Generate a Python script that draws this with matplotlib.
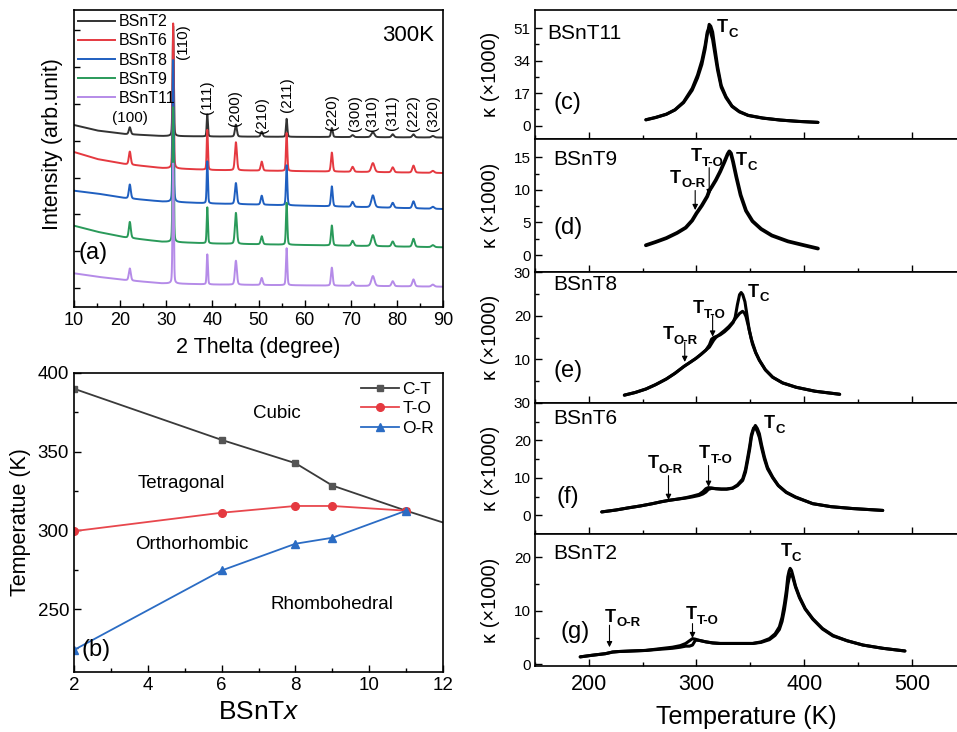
import numpy as np
import matplotlib
matplotlib.use('Agg')
import matplotlib.pyplot as plt
from matplotlib.ticker import MultipleLocator, FixedLocator
from matplotlib.transforms import offset_copy

plt.rcParams['font.family'] = ['Liberation Sans', 'DejaVu Sans']
plt.rcParams['mathtext.fontset'] = 'custom'
plt.rcParams['mathtext.rm'] = 'Liberation Sans'
plt.rcParams['mathtext.it'] = 'Liberation Sans:italic'
plt.rcParams['mathtext.bf'] = 'Liberation Sans:bold'

# ---------------- Panel (a): XRD ----------------
xrd_names = ['BSnT2', 'BSnT6', 'BSnT8', 'BSnT9', 'BSnT11']
xrd_colors = ['#333333', '#e53940', '#1f5fc0', '#2a9a5a', '#b58be8']
peak_labels = ['(100)', '(110)', '(111)', '(200)', '(210)', '(211)', '(220)',
               '(300)', '(310)', '(311)', '(222)', '(320)']
peak_pos = [22.1, 31.5, 38.9, 45.1, 50.7, 56.1, 65.9, 70.4, 74.8, 79.1, 83.6, 87.8]
peak_hwhm = [0.25, 0.15, 0.15, 0.25, 0.25, 0.17, 0.22, 0.3, 0.4, 0.3, 0.3, 0.35]
base_x = [10, 15, 21, 29, 40, 90]
xrd_base = [
    [182, 176.5, 173, 171, 170.5, 169.5],
    [155, 148, 143, 139, 137, 134],
    [116.3, 113.5, 109, 105.5, 103.5, 98],
    [81.3, 75.3, 69.7, 65.3, 63.5, 59.7],
    [33.7, 30.3, 27, 23.7, 22.5, 20.3],
]
xrd_heights = [
    [7, 110, 22, 12, 5, 18, 9, 2, 5, 3, 3, 1.5],
    [13, 145, 40, 28, 9, 38, 19, 5, 9, 5, 7, 2],
    [14, 142, 42, 21, 9, 40, 20, 5, 12, 5, 7, 2],
    [16, 135, 36, 31, 8, 42, 20, 5, 11, 5, 8, 2],
    [12, 120, 30, 24, 7, 37, 18, 4, 10, 5, 7, 2],
]

# ---------------- Panel (b): phase diagram ----------------
bx = [2, 6, 8, 9, 11]
ct_x = [2, 6, 8, 9, 11, 12]
ct_T = [390, 357.5, 342.7, 328.5, 312.5, 305]
to_T = [299.5, 311.2, 315.5, 315.5, 312.5]
or_T = [224, 274.5, 291.5, 295.3, 312.5]

# ---------------- Right panels: dielectric ----------------
c_T = [253, 262, 272, 280, 288, 296, 301, 305, 308, 310, 311.8, 313.3, 315, 317, 319.6,
       323, 327.4, 333, 339.8, 348, 361.5, 378, 395, 412.8]
c_k1 = [3.1, 4.3, 6.0, 8.2, 12.0, 18.5, 25.0, 32.0, 40.0, 47.5, 53.0, 52.0, 49.0, 41.0, 31.0,
        21.0, 15.2, 10.3, 7.4, 5.4, 4.0, 2.9, 2.2, 1.7]
c_k2 = [3.0, 4.2, 5.9, 8.3, 12.4, 19.5, 26.5, 34.0, 42.0, 49.0, 51.0, 48.5, 45.0, 38.0, 29.0,
        20.0, 14.6, 10.0, 7.2, 5.3, 3.9, 2.9, 2.2, 1.7]

d_T = [253, 262, 272, 282, 290, 296, 300, 305, 310, 312, 314, 318, 322, 326, 329,
       330.5, 332, 334, 337, 341, 346, 352, 360, 370, 385, 400, 412.8]
d_k = [1.5, 2.0, 2.6, 3.4, 4.2, 5.3, 6.4, 7.6, 9.0, 9.9, 10.4, 11.5, 12.8, 14.3, 15.5,
       15.9, 15.6, 14.3, 12.0, 9.2, 6.8, 5.2, 4.0, 3.0, 2.1, 1.5, 1.0]

e_T1 = [233, 243, 253, 262, 272, 280, 288.5, 294, 299.4, 304, 308.7, 312, 314, 316, 318,
        322, 326, 330, 334, 336, 338, 340, 341.5, 343, 345, 347, 349, 352, 355, 358.4,
        364, 370.8, 380, 392.6, 410, 433]
e_k1 = [1.8, 2.4, 3.2, 4.2, 5.5, 6.8, 8.4, 9.3, 10.2, 11.1, 12.1, 13.3, 14.6, 15.0, 15.2,
        15.6, 16.3, 17.2, 18.4, 19.7, 22.5, 24.8, 25.3, 24.8, 23.2, 20.0, 16.7, 13.5, 11.5, 9.8,
        7.6, 5.9, 4.6, 3.6, 2.7, 2.0]
e_T2 = [233, 243, 253, 262, 272, 280, 288.5, 294, 299.4, 304, 308.7, 312, 314, 316, 318,
        322, 326, 330, 334, 337, 340, 342.8, 344.5, 346, 348, 351, 355, 358.4, 364, 370.8,
        380, 392.6, 410, 433]
e_k2 = [1.8, 2.4, 3.2, 4.2, 5.5, 6.8, 8.4, 9.3, 10.2, 11.1, 12.1, 12.8, 13.6, 14.4, 15.0,
        15.8, 16.6, 17.5, 18.6, 19.6, 20.5, 21.0, 20.6, 19.8, 17.8, 14.6, 11.6, 9.8, 7.6, 5.9,
        4.6, 3.6, 2.7, 2.0]

f_T = [212, 225, 237, 248, 259, 267, 274.6, 282, 290, 296, 302.5, 306, 308.7, 311, 314,
       318, 323, 328, 333.6, 338, 342.9, 345.5, 347.6, 349.5, 351, 353, 354.7, 356.5, 358.4, 360.5,
       363.1, 366, 370.8, 376, 383.3, 392, 408, 425, 445, 473]
f_k1 = [0.9, 1.4, 2.0, 2.5, 3.1, 3.6, 4.0, 4.3, 4.7, 5.1, 5.6, 6.3, 7.1, 7.4, 7.3,
        7.1, 7.0, 7.0, 7.2, 7.9, 9.3, 11.5, 14.7, 17.8, 20.9, 23.0, 24.0, 23.2, 21.8, 18.8,
        15.6, 12.8, 10.2, 8.0, 6.2, 4.9, 3.1, 2.3, 1.8, 1.3]
f_k2 = [0.9, 1.4, 2.0, 2.5, 3.1, 3.6, 4.0, 4.3, 4.6, 4.9, 5.3, 5.7, 6.2, 6.9, 7.2,
        7.1, 7.0, 7.0, 7.3, 8.1, 9.7, 12.2, 15.5, 18.6, 21.5, 23.3, 23.4, 22.4, 20.8, 18.0,
        15.0, 12.4, 10.0, 7.9, 6.1, 4.8, 3.1, 2.3, 1.8, 1.3]

g_T = [192, 203, 215.5, 222, 228, 240, 252.8, 265, 277.6, 285, 290, 293.5, 296.3, 299, 302,
       308.7, 315, 322, 330.5, 341, 352.2, 360, 367.7, 373, 377, 379.5, 381.7, 383.5, 384.8, 386,
       387, 388.3, 389.5, 392, 395.7, 401, 408.1, 417, 426.8, 440, 454.7, 473, 493.6]
g_k1 = [1.4, 1.7, 2.0, 2.3, 2.4, 2.5, 2.6, 2.9, 3.2, 3.5, 3.9, 4.4, 4.8, 4.7, 4.5,
        4.2, 4.0, 3.9, 3.9, 3.9, 3.9, 4.2, 4.8, 5.7, 7.0, 8.8, 11.3, 13.8, 16.3, 17.4,
        17.9, 17.5, 16.6, 14.6, 12.6, 10.4, 8.5, 6.7, 5.4, 4.4, 3.6, 3.0, 2.5]
g_k2 = [1.4, 1.7, 2.0, 2.3, 2.4, 2.5, 2.6, 2.8, 3.0, 3.2, 3.4, 3.4, 3.6, 4.5, 4.5,
        4.2, 4.0, 3.9, 3.9, 3.9, 3.9, 4.1, 4.6, 5.4, 6.5, 8.0, 10.2, 12.6, 14.8, 16.0,
        16.7, 16.8, 16.2, 14.4, 12.4, 10.3, 8.4, 6.6, 5.3, 4.4, 3.6, 3.0, 2.5]

# ---------------- Figure ----------------
W, H = 957, 732
fig = plt.figure(figsize=(W / 100, H / 100), dpi=100)


def px_axes(l, t, r, b):
    return fig.add_axes([l / W, 1 - b / H, (r - l) / W, (b - t) / H])


def style(ax, lw=1.2):
    for s in ax.spines.values():
        s.set_linewidth(lw)
    ax.tick_params(which='both', direction='in', top=False, right=False, width=1.0)
    ax.tick_params(which='major', length=5)
    ax.tick_params(which='minor', length=3)


# ---- (a)
axa = px_axes(74, 10, 443, 307)
style(axa)
xg = np.arange(10, 90.0001, 0.02)
for name, col, base, hts in zip(xrd_names, xrd_colors, xrd_base, xrd_heights):
    y = np.interp(xg, base_x, base)
    for p, h, w in zip(peak_pos, hts, peak_hwhm):
        u = (xg - p) / w
        y = y + h * (0.75 * np.exp(-np.log(2) * u ** 2) + 0.25 / (1 + u ** 2))
    axa.plot(xg, y, color=col, lw=1.4, label=name)
axa.set_xlim(10, 90)
axa.set_ylim(0, 297)
axa.xaxis.set_major_locator(MultipleLocator(10))
axa.xaxis.set_minor_locator(MultipleLocator(5))
axa.yaxis.set_major_locator(FixedLocator(list(np.arange(19, 297, 36.8))))
axa.set_yticklabels([])
axa.tick_params(axis='y', which='major', length=4)
axa.tick_params(axis='x', labelsize=13)
axa.set_xlabel('2 Thelta (degree)', fontsize=15.5)
axa.xaxis.set_label_coords(0.5, -0.135)
axa.xaxis.label.set_verticalalignment('center')
axa.set_ylabel('Intensity (arb.unit)', fontsize=15.5)
axa.yaxis.set_label_coords(-0.057, 0.55)
axa.yaxis.label.set_verticalalignment('center')
leg = axa.legend(loc='upper left', bbox_to_anchor=(0.0, 1.0), frameon=False, fontsize=11.5,
                 handlelength=2.3, handletextpad=0.25, labelspacing=0.26, borderpad=0.27,
                 borderaxespad=0.0)
axa.text(0.975, 0.915, '300K', transform=axa.transAxes, fontsize=16, ha='right', va='center')
axa.text(22.1, 307 - 118, '(100)', fontsize=11, ha='center', va='center')
rot_lab = [(33.6, 42), (38.8, 97), (44.9, 108), (50.7, 115), (56.2, 95), (65.9, 112),
           (70.9, 113), (74.6, 113), (78.9, 113), (83.5, 113), (87.9, 113)]
for lab, (xx, yy) in zip(peak_labels[1:], rot_lab):
    axa.text(xx, 307 - yy, lab, fontsize=11, rotation=90, ha='center', va='center')
axa.text(10.9, 54, '(a)', fontsize=17, ha='left', va='center')

# ---- (b)
axb = px_axes(74, 373, 443, 672)
style(axb)
axb.plot(ct_x, ct_T, color='#3a3a3a', lw=1.3, marker='s', ms=5, mfc='#555555', mec='#555555',
         markevery=[0, 1, 2, 3, 4], label='C-T')
axb.plot(bx, to_T, color='#e8474d', lw=1.3, marker='o', ms=5.5, mfc='#e53940', mec='#e53940',
         label='T-O')
axb.plot(bx, or_T, color='#2b6cc4', lw=1.3, marker='^', ms=6, mfc='#2b6cc4', mec='#2b6cc4',
         label='O-R')
axb.set_xlim(2, 12)
axb.set_ylim(210, 400)
axb.xaxis.set_major_locator(MultipleLocator(2))
axb.xaxis.set_minor_locator(MultipleLocator(1))
axb.yaxis.set_major_locator(MultipleLocator(50))
axb.yaxis.set_minor_locator(MultipleLocator(25))
axb.tick_params(labelsize=13.5)
axb.set_xlabel('BSnT$x$', fontsize=19)
axb.xaxis.set_label_coords(0.5, -0.135)
axb.xaxis.label.set_verticalalignment('center')
axb.set_ylabel('Temperatue (K)', fontsize=15.5)
axb.yaxis.set_label_coords(-0.144, 0.5)
axb.yaxis.label.set_verticalalignment('center')
axb.legend(loc='upper right', frameon=False, fontsize=12.5, handlelength=2.2, handletextpad=0.2,
           labelspacing=0.25, borderaxespad=0.3, borderpad=0.2)
axb.text(7.5, 374, 'Cubic', fontsize=13.5, ha='center', va='center')
axb.text(4.9, 330, 'Tetragonal', fontsize=13.5, ha='center', va='center')
axb.text(5.2, 291, 'Orthorhombic', fontsize=13.5, ha='center', va='center')
axb.text(9.0, 253, 'Rhombohedral', fontsize=13.5, ha='center', va='center')
axb.text(2.2, 224, '(b)', fontsize=17, ha='left', va='center')

# ---- right panels
rows = [(10, 139), (139, 272), (272, 403), (403, 534), (534, 666)]
axes_r = [px_axes(535, t, 957, b) for t, b in rows]


def setup_right(ax, ylim, ticks, labels, minor, last=False):
    style(ax)
    ax.spines['right'].set_visible(False)
    ax.set_xlim(150, 542)
    ax.set_ylim(*ylim)
    ax.xaxis.set_major_locator(MultipleLocator(100))
    ax.xaxis.set_minor_locator(MultipleLocator(50))
    ax.yaxis.set_major_locator(FixedLocator(ticks))
    ax.set_yticklabels(labels)
    ax.yaxis.set_minor_locator(FixedLocator(minor))
    ax.tick_params(axis='y', labelsize=11, pad=3)
    ax.tick_params(axis='x', labelsize=15.5, pad=6)
    if not last:
        ax.set_xticklabels([])
    ax.set_ylabel('κ (×1000)', fontsize=14.5)
    ax.yaxis.set_label_coords(-0.105, 0.5)
    ax.yaxis.label.set_verticalalignment('center')


def tlab(ax, x, y, sub):
    ax.text(x, y, 'T', fontsize=13, fontweight='bold', ha='center', va='center')
    tr = offset_copy(ax.transData, fig=fig, x=4.2, y=-4.5, units='points')
    ax.text(x, y, sub, transform=tr, fontsize=9.5, fontweight='bold', ha='left', va='center')


def arrow(ax, x, y0, y1):
    ax.annotate('', xy=(x, y1), xytext=(x, y0),
                arrowprops=dict(arrowstyle='-|>', lw=0.8, color='black', mutation_scale=8,
                                shrinkA=0, shrinkB=0))


kw = dict(color='black', lw=2.2, solid_joinstyle='round', solid_capstyle='round')

ax = axes_r[0]
setup_right(ax, (-7, 60.5), [0, 17, 34, 51], ['0', '17', '34', '51'], [8.5, 25.5, 42.5])
ax.plot(c_T, c_k1, **kw)
ax.plot(c_T, c_k2, **kw)
ax.text(161, 48.4, 'BSnT11', fontsize=15, ha='left', va='center')
ax.text(167.5, 12, '(c)', fontsize=17, ha='left', va='center')
tlab(ax, 324.2, 51.3, 'C')

ax = axes_r[1]
setup_right(ax, (-2.6, 17.8), [0, 5, 10, 15], ['0', '5', '10', '15'], [2.5, 7.5, 12.5])
ax.plot(d_T, d_k, color='black', lw=2.7, solid_joinstyle='round', solid_capstyle='round')
ax.text(167, 14.6, 'BSnT9', fontsize=15, ha='left', va='center')
ax.text(167.5, 4.2, '(d)', fontsize=17, ha='left', va='center')
tlab(ax, 341.9, 14.5, 'C')
tlab(ax, 299.4, 15.1, 'T-O')
tlab(ax, 280.8, 11.8, 'O-R')
arrow(ax, 311.8, 13.4, 9.2)
arrow(ax, 298.8, 9.9, 6.9)

ax = axes_r[2]
setup_right(ax, (0, 30), [0, 10, 20, 30], ['', '10', '20', '30'], [5, 15, 25])
ax.plot(e_T1, e_k1, **kw)
ax.plot(e_T2, e_k2, **kw)
ax.text(167, 27.2, 'BSnT8', fontsize=15, ha='left', va='center')
ax.text(167.5, 7.4, '(e)', fontsize=17, ha='left', va='center')
tlab(ax, 352.8, 25.4, 'C')
tlab(ax, 301.6, 21.6, 'T-O')
tlab(ax, 273.6, 15.6, 'O-R')
arrow(ax, 315, 20.0, 15.2)
arrow(ax, 289.1, 13.9, 9.4)

ax = axes_r[3]
setup_right(ax, (-5, 30), [0, 10, 20, 30], ['0', '10', '20', '30'], [5, 15, 25])
ax.plot(f_T, f_k1, **kw)
ax.plot(f_T, f_k2, **kw)
ax.text(167, 25.9, 'BSnT6', fontsize=15, ha='left', va='center')
ax.text(170, 4.9, '(f)', fontsize=17, ha='left', va='center')
tlab(ax, 367.7, 24.4, 'C')
tlab(ax, 307.7, 16.4, 'T-O')
tlab(ax, 259.6, 13.8, 'O-R')
arrow(ax, 311.2, 13.3, 7.6)
arrow(ax, 274, 10.6, 4.1)

ax = axes_r[4]
setup_right(ax, (-0.3, 24.3), [0, 10, 20], ['0', '10', '20'], [5, 15], last=True)
ax.plot(g_T, g_k1, **kw)
ax.plot(g_T, g_k2, **kw)
ax.text(167, 20.7, 'BSnT2', fontsize=15, ha='left', va='center')
ax.text(174, 6.0, '(g)', fontsize=17, ha='left', va='center')
tlab(ax, 383.3, 21.0, 'C')
tlab(ax, 294.8, 9.3, 'T-O')
tlab(ax, 220.2, 8.8, 'O-R')
arrow(ax, 296.3, 7.6, 4.9)
arrow(ax, 219.2, 7.3, 3.2)
ax.set_xlabel('Temperature (K)', fontsize=18)
ax.xaxis.set_label_coords(0.5, -0.385)
ax.xaxis.label.set_verticalalignment('center')

fig.savefig('out.png', dpi=100)
